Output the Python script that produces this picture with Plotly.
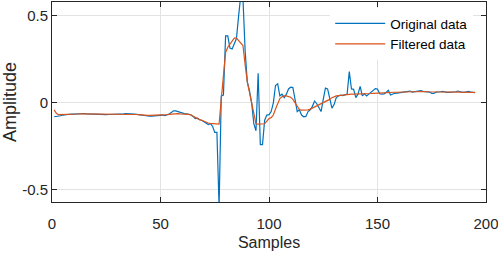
import plotly.graph_objects as go

samples = list(range(1, 196))

original = [
    -0.080, -0.079, -0.077, -0.074, -0.070, -0.068, -0.066, -0.066, -0.064, -0.065,
    -0.064, -0.063, -0.062, -0.060, -0.061, -0.063, -0.064, -0.065, -0.066, -0.066,
    -0.067, -0.067, -0.068, -0.068, -0.068, -0.067, -0.067, -0.066, -0.066, -0.065,
    -0.064, -0.064, -0.063, -0.062, -0.062, -0.061, -0.063, -0.065, -0.066, -0.068,
    -0.072, -0.075, -0.077, -0.078, -0.077, -0.076, -0.074, -0.073, -0.074, -0.072,
    -0.070, -0.073, -0.070, -0.064, -0.055, -0.046, -0.046, -0.050, -0.058, -0.060,
    -0.062, -0.063, -0.064, -0.068, -0.078, -0.090, -0.088, -0.097, -0.100, -0.108,
    -0.118, -0.125, -0.120, -0.135, -0.170, -0.170, -0.600, 0.040, 0.045, 0.385,
    0.385, 0.315, 0.310, 0.340, 0.370, 0.500, 0.620, 0.600, 0.300, 0.120,
    0.070, 0.000, -0.120, -0.160, 0.170, -0.240, -0.240, -0.100, -0.070, -0.068,
    -0.050, 0.000, 0.100, 0.110, 0.040, 0.050, 0.030, 0.050, 0.080, 0.090,
    0.088, 0.020, -0.050, -0.040, -0.070, -0.080, -0.078, -0.050, -0.040, -0.020,
    0.010, -0.005, -0.030, -0.050, 0.020, 0.085, 0.080, 0.030, -0.030, -0.010,
    0.030, 0.040, 0.045, 0.042, 0.048, 0.050, 0.180, 0.080, 0.078, 0.030,
    0.050, 0.095, 0.040, 0.052, 0.040, 0.050, 0.062, 0.072, 0.082, 0.080,
    0.052, 0.050, 0.052, 0.060, 0.072, 0.045, 0.052, 0.055, 0.056, 0.058,
    0.060, 0.060, 0.062, 0.068, 0.068, 0.062, 0.063, 0.064, 0.068, 0.070,
    0.066, 0.064, 0.060, 0.062, 0.055, 0.055, 0.062, 0.065, 0.064, 0.066,
    0.062, 0.060, 0.060, 0.060, 0.062, 0.064, 0.068, 0.062, 0.060, 0.060,
    0.062, 0.066, 0.062, 0.060, 0.058,
]

filtered = [
    -0.040, -0.060, -0.068, -0.068, -0.066, -0.065, -0.065, -0.064, -0.064, -0.064,
    -0.064, -0.064, -0.063, -0.063, -0.063, -0.064, -0.064, -0.065, -0.065, -0.066,
    -0.066, -0.066, -0.066, -0.066, -0.066, -0.066, -0.066, -0.065, -0.065, -0.065,
    -0.065, -0.064, -0.064, -0.064, -0.064, -0.064, -0.065, -0.066, -0.067, -0.068,
    -0.070, -0.071, -0.072, -0.072, -0.072, -0.072, -0.071, -0.071, -0.070, -0.070,
    -0.070, -0.069, -0.068, -0.066, -0.064, -0.063, -0.062, -0.062, -0.063, -0.063,
    -0.064, -0.064, -0.066, -0.070, -0.077, -0.085, -0.090, -0.096, -0.100, -0.106,
    -0.112, -0.116, -0.118, -0.120, -0.122, -0.122, -0.122, 0.020, 0.170, 0.290,
    0.320, 0.340, 0.360, 0.372, 0.372, 0.360, 0.345, 0.330, 0.220, 0.120,
    0.060, 0.000, -0.070, -0.120, -0.122, -0.122, -0.122, -0.120, -0.105, -0.090,
    -0.085, -0.070, -0.035, 0.000, 0.025, 0.035, 0.040, 0.040, 0.038, 0.032,
    0.020, 0.000, -0.025, -0.038, -0.042, -0.042, -0.040, -0.040, -0.036, -0.030,
    -0.025, -0.020, -0.012, -0.004, 0.002, 0.006, 0.010, 0.020, 0.030, 0.036,
    0.040, 0.042, 0.044, 0.046, 0.048, 0.048, 0.049, 0.050, 0.050, 0.050,
    0.050, 0.051, 0.051, 0.052, 0.052, 0.053, 0.054, 0.055, 0.056, 0.057,
    0.058, 0.058, 0.059, 0.059, 0.060, 0.060, 0.060, 0.061, 0.061, 0.062,
    0.062, 0.063, 0.063, 0.064, 0.064, 0.064, 0.064, 0.065, 0.065, 0.065,
    0.065, 0.065, 0.064, 0.064, 0.064, 0.064, 0.064, 0.064, 0.064, 0.064,
    0.063, 0.063, 0.063, 0.063, 0.062, 0.062, 0.062, 0.062, 0.061, 0.061,
    0.061, 0.061, 0.060, 0.060, 0.060,
]

x_ticks = [0, 50, 100, 150, 200]
y_ticks = [-0.5, 0, 0.5]
y_tick_labels = ["-0.5", "0", "0.5"]

FONT = "Liberation Sans, Arial, sans-serif"

fig = go.Figure()
fig.add_trace(go.Scatter(x=samples, y=original, mode="lines", name="Original data",
                         line=dict(color="#0072BD", width=1.2)))
fig.add_trace(go.Scatter(x=samples, y=filtered, mode="lines", name="Filtered data",
                         line=dict(color="#D95319", width=1.2)))

axis_common = dict(showline=True, linecolor="#262626", linewidth=1, mirror="ticks",
                   ticks="inside", ticklen=5, tickcolor="#262626", automargin=False,
                   ticklabeloverflow="allow",
                   showgrid=True, gridcolor="#E3E3E3", gridwidth=1, zeroline=False,
                   tickfont=dict(family=FONT, size=15, color="#262626"))

fig.update_xaxes(range=[0, 200], tickvals=x_ticks, ticklabelstandoff=8,
                 title=dict(text="Samples", font=dict(family=FONT, size=16, color="#262626"), standoff=5),
                 **axis_common)
fig.update_yaxes(range=[-0.57, 0.58], tickvals=y_ticks, ticktext=y_tick_labels,
                 title=dict(text="Amplitude", font=dict(family=FONT, size=18, color="#262626"), standoff=5),
                 **axis_common)

fig.update_layout(
    width=498, height=258,
    margin=dict(l=52, r=12, t=2, b=56),
    paper_bgcolor="white", plot_bgcolor="white",
    legend=dict(x=0.641, y=0.97, xanchor="left", yanchor="top",
                bgcolor="white", borderwidth=0,
                font=dict(family=FONT, size=13.5, color="black"),
                itemwidth=50),
)

fig.write_html("out.html", config={"displayModeBar": False},
               post_script="document.body.style.margin='0';")
